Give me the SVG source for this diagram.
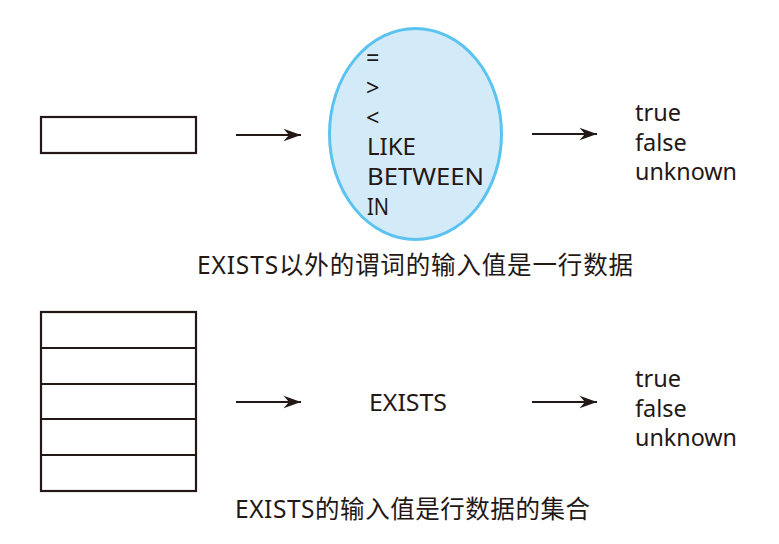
<svg xmlns="http://www.w3.org/2000/svg" width="779" height="544" viewBox="0 0 779 544">
<style>
  .box { fill: #ffffff; stroke: #231815; stroke-width: 2.2; }
  .line { fill: none; stroke: #231815; stroke-width: 2.2; }
  .arrow { fill: none; stroke: #231815; stroke-width: 2.2; marker-end: url(#head); }
  .t { font-family: "Noto Sans", "Noto Sans CJK SC", sans-serif; font-size: 23.5px; fill: #231815; }
  .cap { font-family: "Noto Sans", "Noto Sans CJK SC", sans-serif; font-size: 24.5px; fill: #231815; }
</style>
<defs>
  <marker id="head" markerUnits="userSpaceOnUse" markerWidth="20" markerHeight="14" refX="18" refY="7" orient="auto" viewBox="0 0 20 14">
    <path d="M18,7 L0.5,0.8 L6,7 L0.5,13.2 Z" fill="#231815"/>
  </marker>
</defs>
<rect width="779" height="544" fill="#ffffff"/>

<g id="single-row">
  <rect class="box" x="41" y="117" width="155" height="36"/>
</g>

<g id="predicates">
  <ellipse cx="415.5" cy="134" rx="86" ry="105.5" fill="#d3eaf9" stroke="#5bc3ef" stroke-width="3"/>
  <text class="t" x="366" y="66">=</text>
  <text class="t" x="366" y="96">&gt;</text>
  <text class="t" x="366" y="126">&lt;</text>
  <text class="t" x="367" y="155" textLength="49" lengthAdjust="spacingAndGlyphs">LIKE</text>
  <text class="t" x="367" y="185" textLength="117" lengthAdjust="spacingAndGlyphs">BETWEEN</text>
  <text class="t" x="367" y="215" textLength="22" lengthAdjust="spacingAndGlyphs">IN</text>
</g>

<g id="result-top">
  <text class="t" x="635" y="121">true</text>
  <text class="t" x="635" y="151">false</text>
  <text class="t" x="635" y="180" textLength="102" lengthAdjust="spacingAndGlyphs">unknown</text>
</g>

<g id="caption-top">
  <text class="cap" x="197" y="274" textLength="436" lengthAdjust="spacing">EXISTS以外的谓词的输入值是一行数据</text>
</g>

<g id="row-set">
  <rect class="box" x="41" y="312" width="155" height="179"/>
  <line class="line" x1="41" y1="348" x2="196" y2="348"/>
  <line class="line" x1="41" y1="384" x2="196" y2="384"/>
  <line class="line" x1="41" y1="419" x2="196" y2="419"/>
  <line class="line" x1="41" y1="455" x2="196" y2="455"/>
</g>

<g id="exists">
  <text class="t" x="369" y="411" textLength="78" lengthAdjust="spacingAndGlyphs">EXISTS</text>
</g>

<g id="result-bottom">
  <text class="t" x="635" y="387">true</text>
  <text class="t" x="635" y="417">false</text>
  <text class="t" x="635" y="446" textLength="102" lengthAdjust="spacingAndGlyphs">unknown</text>
</g>

<g id="caption-bottom">
  <text class="cap" x="235" y="518" textLength="355" lengthAdjust="spacing">EXISTS的输入值是行数据的集合</text>
</g>

<g id="connectors">
  <line class="arrow" x1="236" y1="135" x2="301" y2="135"/>
  <line class="arrow" x1="532" y1="134" x2="597" y2="134"/>
  <line class="arrow" x1="236" y1="402" x2="301" y2="402"/>
  <line class="arrow" x1="532" y1="402" x2="597" y2="402"/>
</g>
</svg>
